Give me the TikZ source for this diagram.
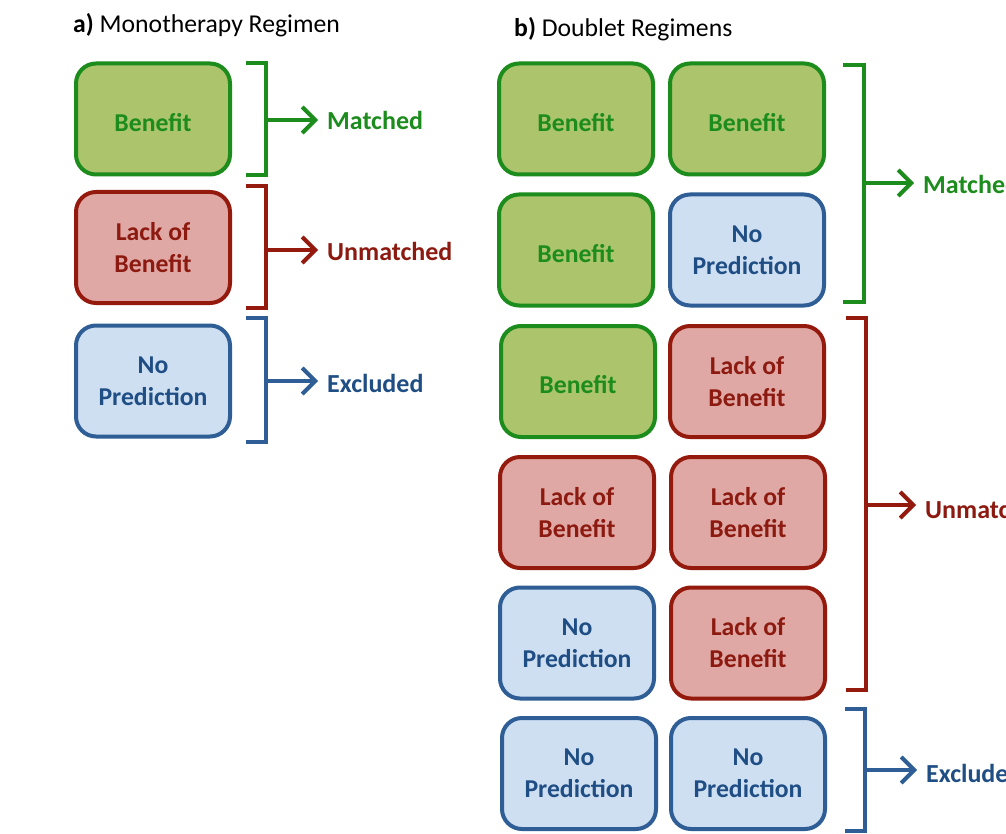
\documentclass[tikz,border=0pt]{standalone}
\usepackage{fontspec}
\setmainfont{Carlito}
\usetikzlibrary{arrows.meta}
\definecolor{gstroke}{HTML}{1C8C1C}
\definecolor{gfill}{HTML}{ACC46C}
\definecolor{rstroke}{HTML}{951A0E}
\definecolor{rfill}{HTML}{E0A8A4}
\definecolor{rtext}{HTML}{8C1A10}
\definecolor{bstroke}{HTML}{2E5E95}
\definecolor{bfill}{HTML}{CFDFF2}
\definecolor{btext}{HTML}{1F4E85}
\tikzset{
  box/.style={rounded corners=20pt, line width=4pt, align=center,
    minimum width=154pt, minimum height=111pt, inner sep=0pt,
    font=\fontsize{25.7}{32}\selectfont\bfseries,
    execute at begin node={\rule{0pt}{25pt}}},
  twoline/.style={execute at begin node={\rule{0pt}{30pt}}},
  gbox/.style={box, draw=gstroke, fill=gfill, text=gstroke},
  rbox/.style={box, twoline, draw=rstroke, fill=rfill, text=rtext},
  bbox/.style={box, twoline, draw=bstroke, fill=bfill, text=btext},
  brk/.style={line width=4pt, line join=miter},
  arr/.style={line width=4pt, -{Straight Barb[length=13pt,width=26pt,line width=4pt]}},
  lab/.style={anchor=west, inner xsep=9pt, inner ysep=0pt, font=\fontsize{26}{30}\selectfont\bfseries},
  ttl/.style={anchor=base west, inner sep=0pt, font=\fontsize{25.7}{30}\selectfont}
}
\begin{document}
\begin{tikzpicture}[x=1pt,y=-1pt]
\useasboundingbox (0,0) rectangle (1006,834);
\clip (0,0) rectangle (1006,834);
\fill[white] (0,0) rectangle (1006,834);

% titles
\node[ttl] (ta) at (73,33) {\textbf{a)} Monotherapy Regimen};
\node[ttl] (tb) at (514,37) {\textbf{b)} Doublet Regimens};

% monotherapy boxes
\node[gbox] (m1) at (153,119) {Benefit};
\node[rbox] (m2) at (153,247.5) {Lack of\\Benefit};
\node[bbox] (m3) at (153,381) {No\\Prediction};

% monotherapy brackets
\coordinate (a1t) at (246,63);  \coordinate (a1u) at (266,63);
\coordinate (a1v) at (266,175); \coordinate (a1b) at (246,175);
\coordinate (a1m) at (266,120);
\draw[brk, gstroke] (a1t) -- (a1u) -- (a1v) -- (a1b);
\node[lab, text=gstroke] (L1) at (318,120) {Matched};
\draw[arr, gstroke] (a1m) -- (a1m -| L1.west);

\coordinate (a2t) at (246,186); \coordinate (a2u) at (266,186);
\coordinate (a2v) at (266,308); \coordinate (a2b) at (246,308);
\coordinate (a2m) at (266,250);
\draw[brk, rstroke] (a2t) -- (a2u) -- (a2v) -- (a2b);
\node[lab, text=rtext] (L2) at (318,251) {Unmatched};
\draw[arr, rstroke] (a2m) -- (a2m -| L2.west);

\coordinate (a3t) at (246,318); \coordinate (a3u) at (266,318);
\coordinate (a3v) at (266,442); \coordinate (a3b) at (246,442);
\coordinate (a3m) at (266,381);
\draw[brk, bstroke] (a3t) -- (a3u) -- (a3v) -- (a3b);
\node[lab, text=btext] (L3) at (318,383) {Excluded};
\draw[arr, bstroke] (a3m) -- (a3m -| L3.west);

% doublet boxes
\node[gbox] (d11) at (576,119) {Benefit};
\node[gbox] (d12) at (747,119) {Benefit};
\node[gbox] (d21) at (576,250) {Benefit};
\node[bbox] (d22) at (747,250) {No\\Prediction};
\node[gbox] (d31) at (578,381.5) {Benefit};
\node[rbox] (d32) at (747,381.5) {Lack of\\Benefit};
\node[rbox] (d41) at (577,512.5) {Lack of\\Benefit};
\node[rbox] (d42) at (748,512.5) {Lack of\\Benefit};
\node[bbox] (d51) at (577,643) {No\\Prediction};
\node[rbox] (d52) at (748,643) {Lack of\\Benefit};
\node[bbox] (d61) at (579,773.5) {No\\Prediction};
\node[bbox] (d62) at (748,773.5) {No\\Prediction};

% doublet brackets
\coordinate (b1t) at (843,65);  \coordinate (b1u) at (864,65);
\coordinate (b1v) at (864,302); \coordinate (b1b) at (843,302);
\coordinate (b1m) at (864,183);
\draw[brk, gstroke] (b1t) -- (b1u) -- (b1v) -- (b1b);
\node[lab, text=gstroke] (R1) at (914,184) {Matched};
\draw[arr, gstroke] (b1m) -- (b1m -| R1.west);

\coordinate (b2t) at (846,318); \coordinate (b2u) at (866,318);
\coordinate (b2v) at (866,690); \coordinate (b2b) at (846,690);
\coordinate (b2m) at (866,505);
\draw[brk, rstroke] (b2t) -- (b2u) -- (b2v) -- (b2b);
\node[lab, text=rtext] (R2) at (916,509) {Unmatched};
\draw[arr, rstroke] (b2m) -- (b2m -| R2.west);

\coordinate (b3t) at (845,709); \coordinate (b3u) at (865,709);
\coordinate (b3v) at (865,831); \coordinate (b3b) at (845,831);
\coordinate (b3m) at (865,770);
\draw[brk, bstroke] (b3t) -- (b3u) -- (b3v) -- (b3b);
\node[lab, text=btext] (R3) at (917,773) {Excluded};
\draw[arr, bstroke] (b3m) -- (b3m -| R3.west);
\end{tikzpicture}
\end{document}
